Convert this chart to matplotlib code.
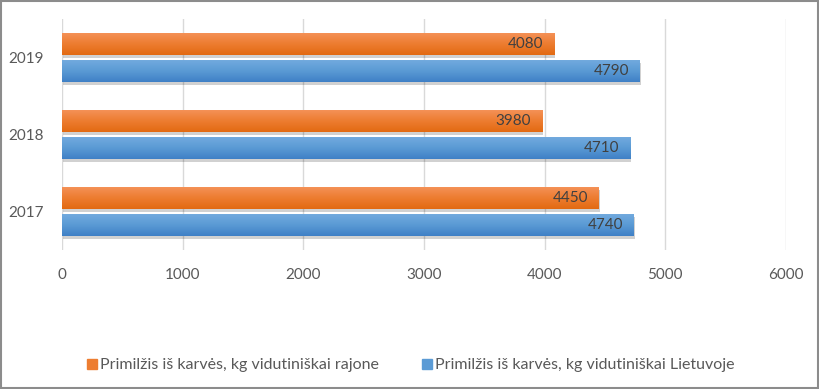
import matplotlib
matplotlib.use("Agg")
import matplotlib.pyplot as plt
import numpy as np
from matplotlib.patches import Rectangle
from matplotlib import patheffects as pe
from matplotlib.colors import LinearSegmentedColormap
from matplotlib.lines import Line2D

plt.rcParams['font.family'] = ['Lato', 'DejaVu Sans']

years = ['2017', '2018', '2019']
rajone = [4450, 3980, 4080]
lietuvoje = [4740, 4710, 4790]
series_names = ['Primilžis iš karvės, kg vidutiniškai rajone',
                'Primilžis iš karvės, kg vidutiniškai Lietuvoje']
xticks = [0, 1000, 2000, 3000, 4000, 5000, 6000]

orange_cmap = LinearSegmentedColormap.from_list('o', ['#F5935A', '#ED7D31', '#E26A12'])
blue_cmap = LinearSegmentedColormap.from_list('b', ['#74ABDF', '#5B9BD5', '#3F80C6'])

fig = plt.figure(figsize=(8.2, 3.89), dpi=100)
ax = fig.add_axes([62/820, 1-250/389, (786-62)/820, (250-19)/389])

y = np.arange(len(years))
h = 0.29
off = 0.175
grad = np.linspace(0, 1, 64).reshape(-1, 1)

def draw(vals, ypos, cmap, base):
    bars = ax.barh(ypos, vals, height=h, color=base, zorder=3)
    for b in bars:
        b.set_path_effects([pe.SimplePatchShadow(offset=(0.8, -2), shadow_rgbFace='#000000', alpha=0.18), pe.Normal()])
        x0, y0 = b.get_x(), b.get_y()
        im = ax.imshow(grad, cmap=cmap, extent=(x0, x0 + b.get_width(), y0, y0 + b.get_height()),
                       origin='upper', aspect='auto', zorder=4, interpolation='bilinear')
        im.set_clip_path(b)
    for v, yy in zip(vals, ypos):
        ax.annotate(str(v), xy=(v, yy), xytext=(-8, 0), textcoords='offset points',
                    ha='right', va='center', fontsize=11, color='#404040', zorder=5)

draw(rajone, y + off, orange_cmap, '#ED7D31')
draw(lietuvoje, y - off, blue_cmap, '#5B9BD5')

ax.set_xlim(0, 6000)
ax.set_ylim(-0.5, 2.5)
ax.set_xticks(xticks)
ax.set_xticklabels([str(t) for t in xticks])
ax.set_yticks(y)
ax.set_yticklabels(years)
ax.tick_params(axis='both', length=0, labelsize=11, labelcolor='#595959')
ax.tick_params(axis='x', pad=13)
ax.tick_params(axis='y', pad=13)
ax.grid(axis='x', color='#D9D9D9', linewidth=1, zorder=0)
ax.set_axisbelow(True)
for s in ax.spines.values():
    s.set_visible(False)

handles = [Line2D([], [], marker='s', linestyle='none', markersize=7, color='#ED7D31'),
           Line2D([], [], marker='s', linestyle='none', markersize=7, color='#5B9BD5')]
fig.legend(handles, series_names, loc='center', bbox_to_anchor=(0.5, 1-365/389), ncol=2,
           frameon=False, fontsize=11.5, labelcolor='#595959', handletextpad=0.1,
           columnspacing=2.6, handlelength=0.8)

fig.add_artist(Rectangle((0.001, 0.002), 0.997, 0.996, transform=fig.transFigure,
                         fill=False, edgecolor='#8C8C8C', linewidth=1.5))

fig.savefig('out.png', dpi=100)
